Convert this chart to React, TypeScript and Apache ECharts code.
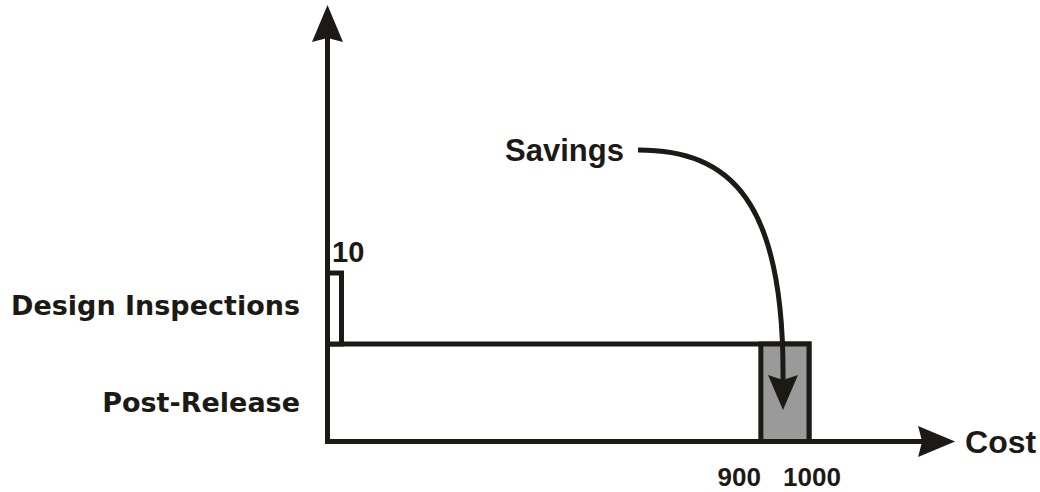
import React, { useEffect, useRef } from 'react';
import * as echarts from 'echarts';

// ---- data ----
const categories = ['Post-Release', 'Design Inspections'];
const costValues = [1000, 10];
const valueLabels = ['', '10'];
const savingsRange = [900, 1000];
const savingsTickLabels = ['900', '1000'];
const axisName = 'Cost';
const annotationText = 'Savings';

// ---- style ----
const INK = '#1d1a16';
const GRAY = '#9a9a9a';
const FONT = "'Liberation Sans', Arial, sans-serif";
const CAT_FONT = "'DejaVu Sans', sans-serif";
const X_MAX = 1265;
const barHeightFrac = [1, 0.728];
const ARROW = 'path://M15.5,0 L31,37 L15.5,33 L0,37 Z';

export default function App() {
  const ref = useRef<HTMLDivElement>(null);

  useEffect(() => {
    if (!ref.current) return;
    const chart = echarts.init(ref.current, undefined, { renderer: 'svg' });

    const axisLineStyle = { color: INK, width: 5, cap: 'square' as const };

    const option: any = {
      animation: false,
      backgroundColor: '#ffffff',
      grid: [
        { left: 327.5, right: 103.4, top: 23.5, bottom: 50.5 },
        { left: 327.5, right: 103.4, top: 246.5, bottom: 50.5 },
      ],
      xAxis: [
        {
          gridIndex: 0,
          type: 'value',
          min: 0,
          max: X_MAX,
          name: axisName,
          nameLocation: 'end',
          nameGap: 28.5,
          nameTextStyle: {
            fontFamily: FONT,
            fontWeight: 'bold',
            fontSize: 32,
            color: INK,
            align: 'left',
            verticalAlign: 'middle',
          },
          axisLine: {
            show: true,
            onZero: false,
            symbol: ['none', ARROW],
            symbolSize: [31, 37],
            lineStyle: axisLineStyle,
          },
          axisTick: { show: false },
          axisLabel: { show: false },
          splitLine: { show: false },
        },
        {
          gridIndex: 1,
          type: 'value',
          min: 0,
          max: X_MAX,
          show: false,
          splitLine: { show: false },
        },
      ],
      yAxis: [
        {
          gridIndex: 0,
          type: 'value',
          min: 0,
          max: 1,
          axisLine: {
            show: true,
            onZero: false,
            symbol: ['none', ARROW],
            symbolSize: [31, 37],
            lineStyle: axisLineStyle,
          },
          axisTick: { show: false },
          axisLabel: { show: false },
          splitLine: { show: false },
        },
        {
          gridIndex: 1,
          type: 'category',
          data: categories,
          axisLine: { show: false },
          axisTick: { show: false },
          splitLine: { show: false },
          axisLabel: {
            interval: 0,
            margin: 27.5,
            verticalAlign: 'top',
            lineHeight: 20,
            fontFamily: CAT_FONT,
            fontWeight: 'bold',
            fontSize: 27,
            color: INK,
          },
        },
      ],
      series: [
        {
          type: 'custom',
          name: 'Cost',
          xAxisIndex: 1,
          yAxisIndex: 1,
          z: 2,
          encode: { x: 0, y: 1 },
          data: costValues.map((v, i) => [v, i]),
          renderItem: (_params: any, api: any) => {
            const v = api.value(0);
            const idx = api.value(1);
            const p0 = api.coord([0, idx]);
            const p1 = api.coord([v, idx]);
            const band = api.size([0, 1])[1];
            const bottom = p0[1] + band / 2;
            const h = band * barHeightFrac[idx];
            const w = Math.max(p1[0] - p0[0], 14);
            const children: any[] = [
              {
                type: 'rect',
                shape: { x: p0[0], y: bottom - h, width: w, height: h },
                style: { fill: '#ffffff', stroke: INK, lineWidth: 5 },
              },
            ];
            const lbl = valueLabels[idx];
            if (lbl) {
              children.push({
                type: 'text',
                x: p0[0] + 4.5,
                y: bottom - h - 21.5,
                style: {
                  text: lbl,
                  fill: INK,
                  font: `bold 29px ${FONT}`,
                  align: 'left',
                  verticalAlign: 'middle',
                },
              });
            }
            return { type: 'group', children };
          },
        },
        {
          type: 'custom',
          name: 'Savings',
          xAxisIndex: 1,
          yAxisIndex: 1,
          z: 3,
          encode: { x: [0, 1], y: 2 },
          data: [[savingsRange[0], savingsRange[1], 0]],
          renderItem: (_params: any, api: any) => {
            const idx = api.value(2);
            const a = api.coord([api.value(0), idx]);
            const b = api.coord([api.value(1), idx]);
            const band = api.size([0, 1])[1];
            const bottom = a[1] + band / 2;
            const h = band * barHeightFrac[idx];
            return {
              type: 'group',
              children: [
                {
                  type: 'rect',
                  shape: { x: a[0], y: bottom - h, width: b[0] - a[0], height: h },
                  style: { fill: GRAY, stroke: INK, lineWidth: 5 },
                },
                {
                  type: 'text',
                  x: a[0],
                  y: bottom + 35.5,
                  style: {
                    text: savingsTickLabels[0],
                    fill: INK,
                    font: `bold 26px ${FONT}`,
                    align: 'right',
                    verticalAlign: 'middle',
                  },
                },
                {
                  type: 'text',
                  x: b[0] + 3,
                  y: bottom + 35.5,
                  style: {
                    text: savingsTickLabels[1],
                    fill: INK,
                    font: `bold 26px ${FONT}`,
                    align: 'center',
                    verticalAlign: 'middle',
                  },
                },
              ],
            };
          },
        },
      ],
      graphic: [
        {
          type: 'text',
          z: 100,
          x: 505,
          y: 150,
          style: {
            text: annotationText,
            fill: INK,
            font: `bold 31px ${FONT}`,
            align: 'left',
            verticalAlign: 'middle',
          },
        },
        {
          type: 'bezierCurve',
          z: 100,
          shape: {
            x1: 638,
            y1: 150,
            cpx1: 730,
            cpy1: 150,
            cpx2: 785,
            cpy2: 200,
            x2: 783,
            y2: 382,
          },
          style: { stroke: INK, lineWidth: 5, fill: null },
        },
        {
          type: 'polygon',
          z: 101,
          shape: {
            points: [
              [768, 375],
              [783, 410],
              [798, 375],
              [783, 380],
            ],
          },
          style: { fill: INK },
        },
      ],
    };

    chart.setOption(option);
    return () => chart.dispose();
  }, []);

  return (
    <div
      ref={ref}
      style={{ position: 'fixed', left: 0, top: 0, width: 1040, height: 492, background: '#fff' }}
    />
  );
}
